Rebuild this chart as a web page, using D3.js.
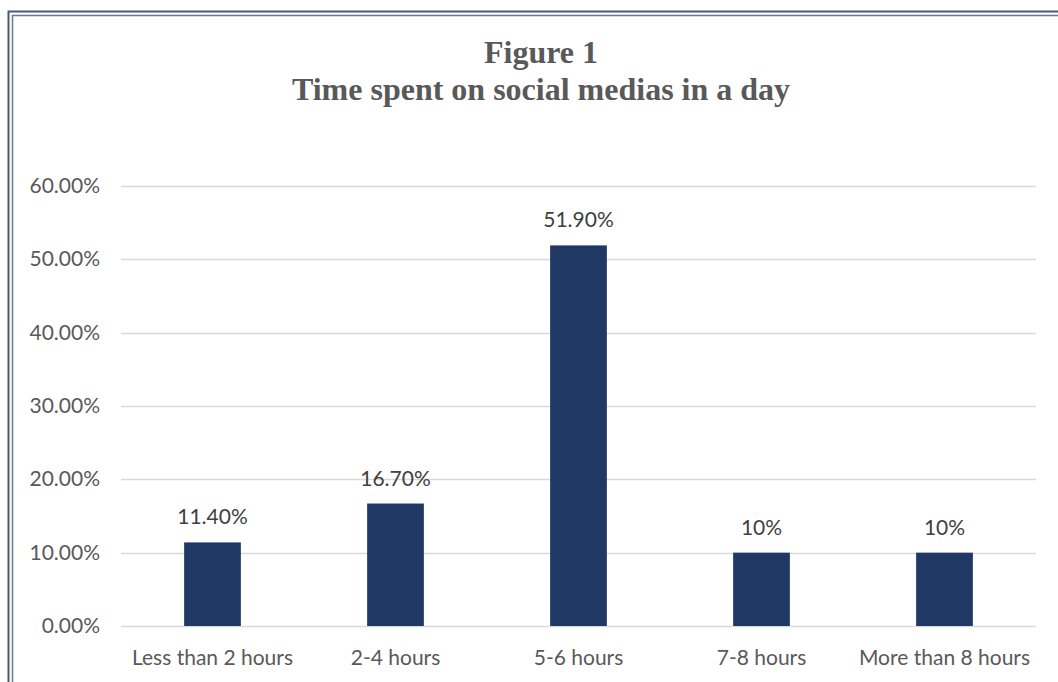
<!DOCTYPE html>
<html>
<head>
<meta charset="utf-8">
<script src="https://cdn.jsdelivr.net/npm/d3@7"></script>
<style>
body{margin:0;background:#fff;}
</style>
</head>
<body>
<div class="chart"></div>
<script>
const categories=['Less than 2 hours','2-4 hours','5-6 hours','7-8 hours','More than 8 hours'];
const values=[0.114,0.167,0.519,0.10,0.10];
const valueLabels=['11.40%','16.70%','51.90%','10%','10%'];
const yTicks=[0,0.1,0.2,0.3,0.4,0.5,0.6];

const width=1058;
const height=682;
const margin={left:121,right:22,top:186,bottom:56};

const svg=d3.select('.chart')
	.append('svg')
	.attr('width',width)
	.attr('height',height)

// double frame
svg.append('rect')
	.attr('x',8.5).attr('y',11.5)
	.attr('width',1070).attr('height',700)
	.attr('fill','none')
	.attr('stroke','#4a5a70')
	.attr('stroke-width',2)
svg.append('rect')
	.attr('x',12.5).attr('y',15.5)
	.attr('width',1070).attr('height',700)
	.attr('fill','none')
	.attr('stroke','#6b7a8f')
	.attr('stroke-width',1.5)

const serif='"Liberation Serif", "Times New Roman", serif';
svg.append('text')
	.attr('x',541).attr('y',63)
	.attr('text-anchor','middle')
	.attr('font-family',serif)
	.attr('font-weight','bold')
	.attr('font-size',32)
	.attr('fill','#595959')
	.text('Figure 1')
svg.append('text')
	.attr('x',541).attr('y',100)
	.attr('text-anchor','middle')
	.attr('font-family',serif)
	.attr('font-weight','bold')
	.attr('font-size',32)
	.attr('fill','#595959')
	.text('Time spent on social medias in a day')

const x=d3.scaleBand()
	.domain(categories)
	.range([margin.left,width-margin.right])
	.paddingInner(0.69)
	.paddingOuter(0.345)

const y=d3.scaleLinear()
	.domain([0,0.6])
	.range([height-margin.bottom,margin.top])

const font='Lato, "Open Sans", sans-serif';
const fs=21;

// gridlines
svg.selectAll('.grid')
	.data(yTicks)
	.enter()
	.append('line')
	.attr('x1',margin.left)
	.attr('x2',width-margin.right)
	.attr('y1',d=>Math.round(y(d))+0.5)
	.attr('y2',d=>Math.round(y(d))+0.5)
	.attr('stroke','#d9d9d9')
	.attr('stroke-width',1.5)

// y tick labels
svg.selectAll('.ylab')
	.data(yTicks)
	.enter()
	.append('text')
	.attr('x',100)
	.attr('y',d=>y(d)+7)
	.attr('text-anchor','end')
	.attr('font-family',font)
	.attr('font-size',fs)
	.attr('fill','#595959')
	.text(d=>d3.format('.2%')(d))

svg.selectAll('rect.bar')
	.data(values)
	.enter()
	.append('rect')
	.attr('class','bar')
	.attr('x',(d,i)=>x(categories[i]))
	.attr('width',x.bandwidth())
	.attr('y',d=>y(d))
	.attr('height',d=>y(0)-y(d))
	.attr('fill','#203864')

svg.selectAll('.vlab')
	.data(values)
	.enter()
	.append('text')
	.attr('x',(d,i)=>x(categories[i])+x.bandwidth()/2)
	.attr('y',d=>y(d)-18)
	.attr('text-anchor','middle')
	.attr('font-family',font)
	.attr('font-size',fs)
	.attr('fill','#404040')
	.text((d,i)=>valueLabels[i])

svg.selectAll('.xlab')
	.data(categories)
	.enter()
	.append('text')
	.attr('x',d=>x(d)+x.bandwidth()/2)
	.attr('y',665)
	.attr('text-anchor','middle')
	.attr('font-family',font)
	.attr('font-size',fs)
	.attr('fill','#595959')
	.text(d=>d)
</script>
</body>
</html>
